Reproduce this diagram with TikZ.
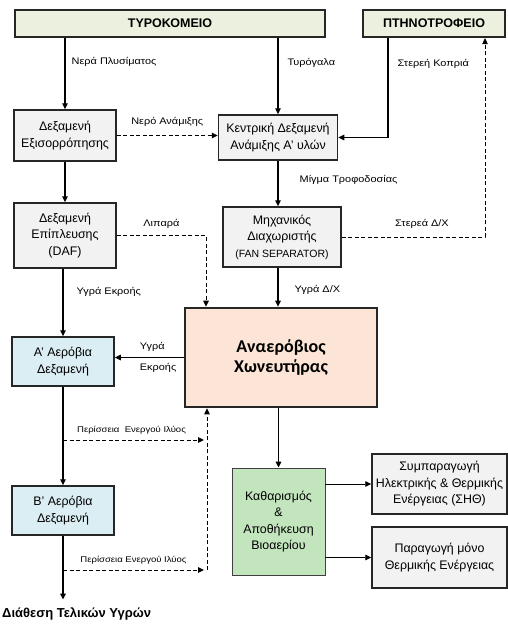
\documentclass[tikz,border=0pt]{standalone}
\usepackage{fontspec}
\setmainfont{Liberation Sans}
\newfontfamily\carlito{Carlito}
\newfontfamily\lblfont[FakeStretch=1.15]{Liberation Sans}
\usetikzlibrary{arrows.meta,positioning}

\definecolor{srcfill}{HTML}{EBF1DE}
\definecolor{tankfill}{HTML}{F2F2F2}
\definecolor{aerofill}{HTML}{DBEEF4}
\definecolor{digfill}{HTML}{FCE4D6}
\definecolor{gasfill}{HTML}{C3E5BE}

\begin{document}
\begin{tikzpicture}[
    x=1pt, y=-1pt,
    block/.style={draw=black!85, line width=1.5pt, fill=tankfill, align=center, inner sep=2pt,
      font=\fontsize{12.4}{16.5}\selectfont},
    source/.style={block, line width=2.2pt, fill=srcfill, font=\bfseries\fontsize{12.5}{15}\selectfont},
    aerobic/.style={block, fill=aerofill},
    lbl/.style={inner sep=1pt, font=\lblfont\fontsize{9.5}{11}\selectfont},
    smalllbl/.style={lbl, font=\lblfont\fontsize{8.3}{10}\selectfont},
    arrow/.style={-{Triangle[length=6pt, width=5.5pt]}, line width=1.4pt},
    thinarrow/.style={-{Triangle[length=6pt, width=5.5pt]}, line width=0.9pt},
    dasharrow/.style={-{Triangle[length=6pt, width=5.5pt]}, line width=1pt, dash pattern=on 4pt off 2.5pt}
  ]
    \useasboundingbox (0,0) rectangle (507,624);

    % sources
    \node[source, minimum width=310pt, minimum height=27pt] (tyro) at (170,23.5) {ΤΥΡΟΚΟΜΕΙΟ};
    \node[source, minimum width=142pt, minimum height=27pt] (poultry) at (434,23.5) {ΠΤΗΝΟΤΡΟΦΕΙΟ};

    % tanks
    \node[block, minimum width=102pt, minimum height=51pt] (equal) at (65,135.5) {Δεξαμενή\\Εξισορρόπησης};
    \node[block, minimum width=119pt, minimum height=45pt] (central) at (278,137.5) {Κεντρική Δεξαμενή\\Ανάμιξης Α' υλών};
    \node[block, minimum width=102pt, minimum height=65pt] (daf) at (65,235.5)
      {Δεξαμενή\\Επίπλευσης\\(DAF)};
    \node[block, minimum width=118pt, minimum height=60pt] (separator) at (282,237)
      {Μηχανικός\\Διαχωριστής\\{\fontsize{10.5}{12}\selectfont (FAN SEPARATOR)}};
    \node[block, line width=2.6pt, fill=digfill, minimum width=192pt, minimum height=99pt,
      font=\carlito\bfseries\fontsize{18}{20}\selectfont] (digester) at (281,357.5)
      {Αναερόβιος\\Χωνευτήρας};
    \node[aerobic, minimum width=102pt, minimum height=49pt] (aerA) at (63,361.5) {Α' Αερόβια\\Δεξαμενή};
    \node[aerobic, minimum width=102pt, minimum height=49pt] (aerB) at (63,510.5) {Β' Αερόβια\\Δεξαμενή};
    \node[block, line width=0.8pt, draw=black!75, fill=gasfill, minimum width=93pt, minimum height=107pt]
      (biogas) at (278.5,521.5) {Καθαρισμός\\\&\\Αποθήκευση\\Βιοαερίου};
    \node[block, minimum width=135pt, minimum height=60pt, inner sep=0pt] (chp) at (439.5,484)
      {Συμπαραγωγή\\Ηλεκτρικής \& Θερμικής\\Ενέργειας (ΣΗΘ)};
    \node[block, minimum width=135pt, minimum height=61pt] (heat) at (439.5,557.5)
      {Παραγωγή μόνο\\Θερμικής Ενέργειας};
    \node[anchor=west, inner sep=0pt, font=\bfseries\fontsize{13}{15}\selectfont] (outlet) at (2,614)
      {Διάθεση Τελικών Υγρών};

    \coordinate (sludgeA) at (63,440);
    \coordinate (sludgeB) at (63,570);
    \coordinate (collect) at (207,570);

    % main flows
    \draw[arrow] (tyro.south -| equal) -- node[lbl, pos=0.34, right=5pt] {Νερά Πλυσίματος} (equal.north);
    \draw[arrow] (tyro.south -| central) -- node[lbl, pos=0.32, right=8pt] {Τυρόγαλα} (central.north);
    \draw[arrow] ([xshift=-46pt]poultry.south) |- node[lbl, pos=0.13, right=8pt] {Στερεή Κοπριά} (central.east);
    \draw[dasharrow] (equal.east) -- node[lbl, above=8pt] {Νερό Ανάμιξης} (equal.east -| central.west);
    \draw[arrow] (equal) -- (daf);
    \draw[arrow] (central.south) -- node[lbl, pos=0.43, right=20pt] {Μίγμα Τροφοδοσίας} (central.south |- separator.north);
    \draw[dasharrow] (daf.east) -| node[lbl, pos=0.25, above=6pt] {Λιπαρά} ([xshift=-75pt]digester.north);
    \draw[dasharrow] (separator.east) -| node[lbl, pos=0.28, above=7pt] {Στερεά Δ/Χ} ([xshift=51pt]poultry.south);
    \draw[arrow] (daf.south -| aerA) -- node[lbl, pos=0.35, right=12pt] {Υγρά Εκροής} (aerA.north);
    \draw[arrow] (separator.south -| central) -- node[lbl, pos=0.58, right=15pt] {Υγρά Δ/Χ} (central |- digester.north);
    \draw[arrow] (digester.west) --
      node[lbl, pos=0.66, anchor=south west, yshift=4pt] {Υγρά}
      node[lbl, pos=0.66, anchor=north west, yshift=-4pt] {Εκροής} (digester.west -| aerA.east);
    \draw[arrow] (aerA) -- (aerB);
    \draw[arrow] (aerB.south) -- ([yshift=8pt]aerB.south |- outlet.north);

    % excess sludge back to digester
    \draw[dasharrow] (sludgeA) -- node[smalllbl, above=4pt, xshift=-2pt] {Περίσσεια~ Ενεργού Ιλύος} ([xshift=-3pt]sludgeA -| collect);
    \draw[dasharrow] (sludgeB) -- node[smalllbl, above=4pt] {Περίσσεια Ενεργού Ιλύος} ([xshift=-3pt]collect);
    \draw[dasharrow] (collect) -- (collect |- digester.south);

    % biogas
    \draw[arrow] (digester.south -| biogas) -- (biogas.north);
    \draw[thinarrow] (biogas.east |- chp.west) -- (chp.west);
    \draw[thinarrow] (biogas.east |- heat.west) -- (heat.west);
\end{tikzpicture}
\end{document}
